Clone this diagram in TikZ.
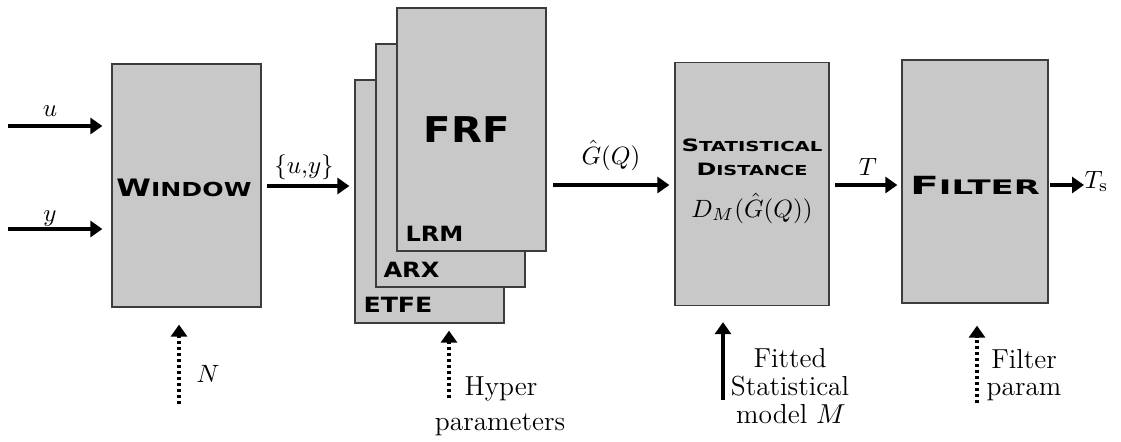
\documentclass[tikz,border=0pt]{standalone}
\usepackage{fontspec}
\usepackage{graphicx}
\usetikzlibrary{arrows.meta}
\newfontfamily\capfont{DejaVu Sans}
\definecolor{boxfill}{RGB}{200,200,200}
\definecolor{boxline}{RGB}{60,60,60}
% bold caps with a taller first letter, stretched to a given width
\newcommand\widecaps[5]{\resizebox{#5}{\height}{\capfont\bfseries{\fontsize{#3}{#3}\selectfont #1}{\fontsize{#4}{#4}\selectfont #2}}}
\tikzset{
  blockbox/.style={draw=boxline, line width=0.5pt, fill=boxfill, inner sep=0pt,
    minimum width=#1*0.4pt, minimum height=97.2pt},
  sig/.style={line width=1.6pt, -{Triangle[length=4.8pt,width=6.4pt]}},
  dsig/.style={line width=1.3pt, dash pattern=on 1.2pt off 1.2pt, -{Triangle[length=4.8pt,width=6.4pt]}},
  lbl/.style={inner sep=0pt, anchor=base, font=\fontsize{10}{12}\selectfont},
  captxt/.style={inner sep=0pt, anchor=base},
  captxtw/.style={inner sep=0pt, anchor=base west},
}
\begin{document}
\begin{tikzpicture}[x=0.4pt, y=-0.4pt]
\useasboundingbox (0,0) rectangle (1121,441);

% processing blocks
\node[blockbox=149] (win) at (186.5,185.5) {};
\node[blockbox=149] (etfe) at (429.5,201.5) {};
\node[blockbox=149] (arx) at (450.5,165.5) {};
\node[blockbox=149] (lrm) at (471.5,129.5) {};
\node[blockbox=154] (stat) at (752,184) {};
\node[blockbox=146] (filt) at (975,181.5) {};

% block titles
\node[captxt] (wintxt) at (184,196) {\widecaps{W}{INDOW}{9.6}{7.7}{54pt}};
\node[captxt] (frftxt) at (467,142) {\widecaps{F}{RF}{14.2}{14.2}{34.4pt}};
\node[captxtw] (lrmtxt) at (405,241) {\widecaps{L}{RM}{8.4}{8.4}{23.2pt}};
\node[captxtw] (arxtxt) at (383,277) {\widecaps{A}{RX}{8.4}{8.4}{22.4pt}};
\node[captxtw] (etfetxt) at (363,312) {\widecaps{E}{TFE}{8.4}{8.4}{27.6pt}};
\node[captxt] (sttxt) at (752,151.5) {\widecaps{S}{TATISTICAL}{6.8}{5.5}{56.4pt}};
\node[captxt] (dsttxt) at (752,175) {\widecaps{D}{ISTANCE}{6.8}{5.5}{44.4pt}};
\node[lbl] (dm) at (752,217) {$D_M(\hat{G}(Q))$};
\node[captxt] (filtxt) at (975,194) {\widecaps{F}{ILTER}{10}{8}{52pt}};

% inputs
\coordinate (uin) at (8,126);
\coordinate (yin) at (8,229);
\draw[sig, shorten >=3.6pt] (uin) -- (uin -| win.west);
\draw[sig, shorten >=3.6pt] (yin) -- (yin -| win.west);
\node[lbl] (ulbl) at (50,116) {$u$};
\node[lbl] (ylbl) at (50,221) {$y$};

% signal chain
\coordinate (c1) at (261,186);
\draw[sig, shorten <=2.4pt, shorten >=2pt] (c1) -- (c1 -| etfe.west);
\node[lbl] (uylbl) at (304,173) {$\{u{,}y\}$};
\coordinate (c2) at (546,185);
\draw[sig, shorten <=2.8pt, shorten >=2pt] (c2) -- (c2 -| stat.west);
\node[lbl] (glbl) at (611,164) {$\hat{G}(Q)$};
\coordinate (c3) at (829,185);
\draw[sig, shorten <=2.4pt, shorten >=1.6pt] (c3) -- (c3 -| filt.west);
\node[lbl] (tlbl) at (868,175) {$T$};
\coordinate (c4) at (1048,185);
\coordinate (tsout) at (1084,185);
\draw[sig, shorten <=0.8pt] (c4) -- (tsout);
\node[lbl, anchor=base west] (tslbl) at (1084,188) {$T_{\mathrm{s}}$};

% parameter inputs from below
\coordinate (nin) at (179,404);
\draw[dsig, shorten >=6.8pt] (nin) -- (nin |- win.south);
\node[lbl] (nlbl) at (208,382) {$N$};
\coordinate (hin) at (449,398);
\draw[dsig, shorten >=2.8pt] (hin) -- (hin |- etfe.south);
\node[lbl, font=\fontsize{11}{13}\selectfont] (hlbl1) at (501,395) {Hyper};
\node[lbl, font=\fontsize{11}{13}\selectfont] (hlbl2) at (500,430) {parameters};
\coordinate (min) at (723,400);
\draw[sig, shorten >=6.4pt] (min) -- (min |- stat.south);
\node[lbl, font=\fontsize{11}{13}\selectfont] (mlbl1) at (790,367) {Fitted};
\node[lbl, font=\fontsize{11}{13}\selectfont] (mlbl2) at (790,395) {Statistical};
\node[lbl, font=\fontsize{11}{13}\selectfont] (mlbl3) at (791,423) {model $M$};
\coordinate (fin) at (977,403);
\draw[dsig, shorten >=8.8pt] (fin) -- (fin |- filt.south);
\node[lbl, font=\fontsize{11}{13}\selectfont] (flbl1) at (1024,368) {Filter};
\node[lbl, font=\fontsize{11}{13}\selectfont] (flbl2) at (1024,395) {param};
\end{tikzpicture}
\end{document}
